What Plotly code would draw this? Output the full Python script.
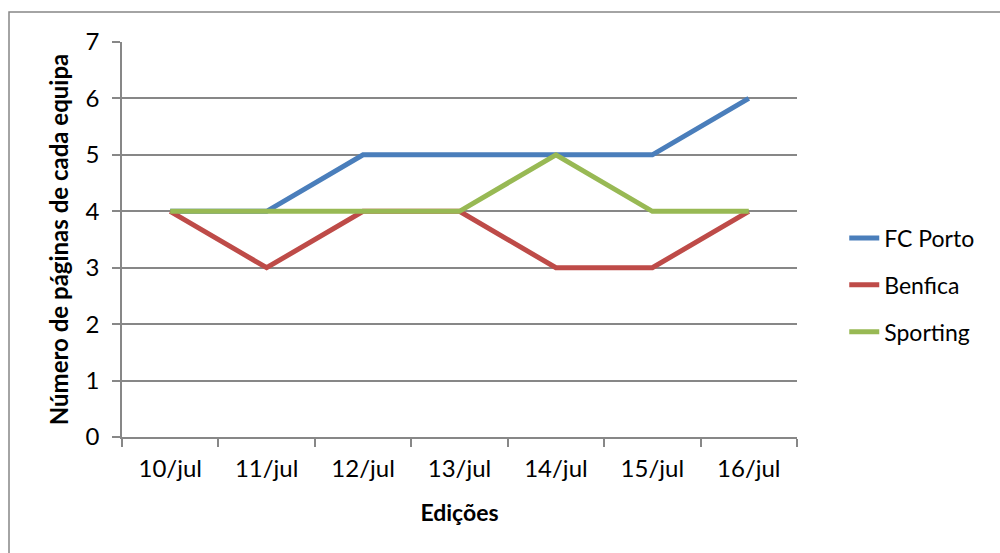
import plotly.graph_objects as go

categories = ["10/jul", "11/jul", "12/jul", "13/jul", "14/jul", "15/jul", "16/jul"]
fc_porto = [4, 4, 5, 5, 5, 5, 6]
benfica = [4, 3, 4, 4, 3, 3, 4]
sporting = [4, 4, 4, 4, 5, 4, 4]

FONT = "Lato, Carlito, Calibri, sans-serif"
GRID = "#878787"

fig = go.Figure()
for name, vals, col in [("FC Porto", fc_porto, "#4a7ebb"),
                        ("Benfica", benfica, "#be4b48"),
                        ("Sporting", sporting, "#98b954")]:
    fig.add_trace(go.Scatter(x=categories, y=vals, name=name, mode="lines",
                             legendgroup=name,
                             line=dict(color=col, width=5)))

fig.update_layout(
    width=1000, height=553,
    margin=dict(l=122, r=203, t=42, b=116),
    paper_bgcolor="white", plot_bgcolor="white",
    font=dict(family=FONT, size=24, color="black"),
    showlegend=True,
    legend=dict(x=1.07, xanchor="left", y=0.385, yanchor="middle",
                font=dict(size=23), tracegroupgap=14, itemsizing="constant",
                bgcolor="rgba(0,0,0,0)", borderwidth=0),
    xaxis=dict(type="category", range=[-0.5, 6.5], showgrid=False,
               showline=True, linecolor=GRID, linewidth=1.5,
               ticks="outside", tickson="boundaries", ticklen=8,
               tickcolor=GRID, tickwidth=1.5, ticklabelstandoff=9,
               tickfont=dict(size=24),
               title=dict(text="<b>Edições</b>", font=dict(size=23), standoff=24),
               zeroline=False, fixedrange=True),
    yaxis=dict(range=[0, 7], dtick=1, showgrid=True, gridcolor=GRID, gridwidth=1.5,
               showline=True, linecolor=GRID, linewidth=1.5,
               ticks="outside", ticklen=8, tickcolor=GRID, tickwidth=1.5,
               ticklabelstandoff=8, tickfont=dict(size=24),
               title=dict(text="<b>Número de páginas de cada equipa</b>", font=dict(size=24), standoff=10),
               zeroline=False, fixedrange=True),
)

# chart area border (extends beyond visible frame)
fig.add_shape(type="rect", xref="paper", yref="paper",
              x0=-113/675, x1=1.35, y0=-0.4, y1=1 + 30/395,
              line=dict(color=GRID, width=1.5), layer="below")

fig.write_html("out.html")
